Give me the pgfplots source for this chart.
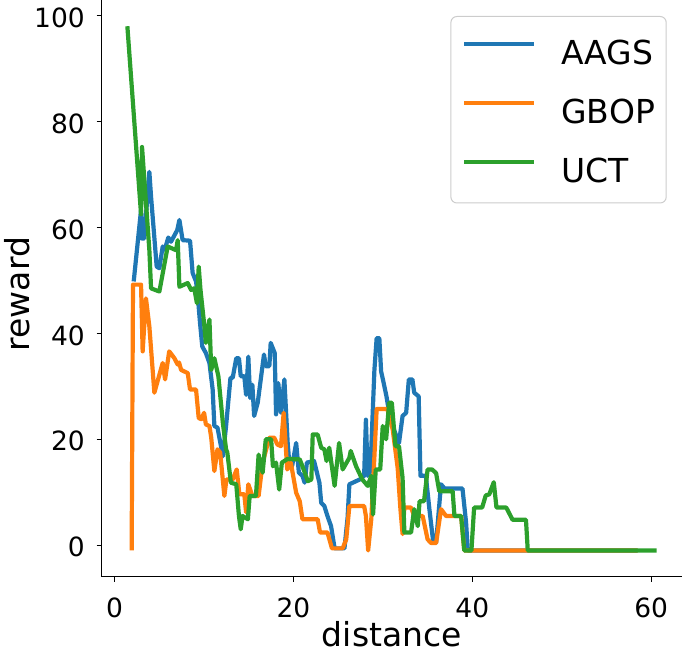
\documentclass[border=0pt]{standalone}
\usepackage{fontspec}
\setmainfont{DejaVu Sans}
\usepackage{pgfplots}
\pgfplotsset{compat=1.18}
\definecolor{tabblue}{HTML}{1F77B4}
\definecolor{taborange}{HTML}{FF7F0E}
\definecolor{tabgreen}{HTML}{2CA02C}
\begin{document}
\begin{tikzpicture}
\begin{axis}[
  name=ax,
  scale only axis,
  width=580.3pt, height=576.7pt,
  xmin=-1.45, xmax=63.45, ymin=-5.95, ymax=102.95,
  axis x line*=bottom, axis y line*=left,
  axis line style={line width=1.1pt, -},
  tick align=outside,
  major tick length=5pt,
  every tick/.style={black, line width=1.1pt},
  xtick={0,20,40,60}, ytick={0,20,...,100},
  /pgf/number format/assume math mode=true,
  tick label style={font=\fontsize{26.5}{30}\selectfont, inner sep=0pt},
  xticklabel style={anchor=north, yshift=-16pt},
  yticklabel style={anchor=east, xshift=-11.7pt, yshift=-2pt},
  xlabel={distance}, ylabel={reward},
  label style={font=\fontsize{33}{40}\selectfont, inner sep=0pt},
  xlabel style={at={(axis description cs:0.5,-0.1202)}, anchor=base},
  ylabel style={at={(axis description cs:-0.1236,0.49)}, anchor=south},
  every axis plot/.append style={line width=4.2pt, line join=round},
  legend style={at={(axis description cs:1,1)}, anchor=north east,
    xshift=-15.3pt, yshift=-16pt,
    draw=black!20, line width=1pt, rounded corners=6pt, fill=white,
    font=\fontsize{33}{40}\selectfont,
    inner xsep=11.3pt, inner ysep=15.7pt,
    row sep=21.9pt, column sep=25pt,
    nodes={inner sep=0pt, text height=23.3pt, text depth=4.3pt}},
  legend cell align=left,
  legend image code/.code={%
    \path[draw=none, fill=none] (0pt,-4.3pt) rectangle (70pt,23.3pt);
    \draw[#1, sharp corners] (0pt,11.7pt) -- (70pt,11.7pt);},
]
% AAGS
\addplot[tabblue] coordinates {
(2.13,49.8) (2.95,63.3) (3.06,57.9) (3.3,57.9) (3.88,70.5) (4.07,65.8)
(4.7,52.6) (5.0,52.3) (5.37,56.4) (5.6,55.8) (6.0,58.1) (6.3,57.3)
(7.0,59.5) (7.24,61.4) (7.6,57.6) (8.43,57.5) (8.72,51.4) (9.1,49.8)
(9.3,47.0) (9.55,41.9) (9.8,37.5) (10.2,36.3) (10.6,34.4) (10.96,29.4)
(11.15,22.5) (11.5,22.2) (12.1,16.8) (12.46,22.5) (12.95,31.6) (13.2,31.6)
(13.6,35.3) (13.9,35.3) (14.1,31.9) (14.5,31.9) (14.7,28.4) (14.95,35.6)
(15.15,27.8) (15.4,30.3) (15.6,24.4) (16.0,26.9) (16.7,36.0) (16.9,33.8)
(17.3,33.8) (17.45,38.2) (17.9,36.3) (18.05,24.7) (18.3,30.6) (18.6,25.0)
(18.98,31.3) (19.35,19.3) (19.5,16.2) (19.85,15.0) (20.3,19.3) (20.6,13.7)
(21.0,13.1) (21.25,11.8) (21.5,15.6) (22.3,15.9) (22.9,11.8) (23.1,8.0)
(23.45,7.4) (23.8,5.5) (24.2,3.6) (24.6,-0.6) (25.7,-0.6) (26.05,5.2)
(26.25,11.5) (27.4,12.4) (27.9,13.1) (28.1,23.7) (28.3,13.1) (28.6,14.0)
(29.05,33.1) (29.3,39.1) (29.6,39.1) (29.8,32.8) (30.0,31.3) (30.4,28.1)
(30.7,25.0) (31.1,22.5) (31.5,20.6) (31.8,19.3) (32.2,24.4) (32.6,25.0)
(32.9,31.3) (33.3,31.3) (33.5,28.8) (34.0,28.1) (34.2,13.1) (34.8,13.1)
(35.2,6.8) (35.6,1.0) (35.95,0.5) (36.5,11.5) (36.9,10.7) (38.9,10.7)
(39.3,4.3) (39.5,-1) (58.5,-1)
};
\addlegendentry{AAGS}
% GBOP
\addplot[taborange] coordinates {
(1.9,-1) (2.05,49.2) (2.95,49.2) (3.13,36.6) (3.5,46.6) (3.88,41.3)
(4.44,28.8) (5.37,34.4) (5.64,31.3) (6.1,36.6) (6.68,35.3) (7.05,34.1)
(7.2,34.5) (7.43,33.1) (8.17,32.5) (8.43,29.4) (9.1,29.4) (9.4,24.0)
(9.7,23.8) (10.0,25.0) (10.2,22.8) (10.6,22.5) (10.8,20.3) (11.15,14.0)
(11.5,18.1) (11.8,17.5) (12.27,9.3) (12.5,12.4) (13.2,12.4) (13.65,14.3)
(13.95,9.6) (14.5,9.6) (14.7,6.2) (14.95,11.5) (15.4,9.3) (16.1,9.3)
(16.55,15.6) (17.3,20.3) (17.85,20.3) (18.2,19.0) (18.6,18.7) (18.9,25.0)
(19.3,14.3) (19.7,15.6) (20.3,9.9) (20.7,8.3) (21.0,4.9) (22.7,4.9)
(22.97,2.4) (23.8,2.4) (24.3,-0.6) (25.5,-0.6) (25.9,1.1) (26.25,7.4)
(27.9,7.4) (28.1,5.5) (28.35,-1) (28.7,4.9) (29.05,16.8) (29.3,25.7)
(30.5,25.7) (31.1,21.8) (31.65,14.6) (31.96,6.8) (32.2,2.1) (32.4,7.1)
(33.15,7.1) (33.5,5.5) (34.45,5.5) (35.0,1.1) (35.4,0.4) (35.95,0.4)
(36.5,6.8) (37.07,5.5) (38.75,5.5) (39.1,-1) (58.5,-1)
};
\addlegendentry{GBOP}
% UCT
\addplot[tabgreen] coordinates {
(1.42,98.0) (2.95,62.5) (3.06,75.2) (3.88,55.7) (4.07,48.5) (5.0,47.9)
(5.93,56.4) (6.87,55.7) (7.05,57.6) (7.24,48.8) (8.17,49.5) (8.55,48.2)
(8.9,48.5) (9.2,45.7) (9.4,52.6) (9.6,48.2) (10.0,41.9) (10.2,38.2)
(10.6,42.6) (10.8,33.1) (11.15,35.3) (11.6,31.9) (12.1,23.1) (12.46,18.1)
(12.6,17.5) (13.0,11.8) (13.6,11.5) (13.9,5.5) (14.1,3.0) (14.3,5.5)
(14.9,4.9) (15.1,9.3) (15.8,9.3) (16.1,17.1) (16.55,13.7) (16.9,20.0)
(17.5,20.0) (17.7,14.9) (18.05,15.6) (18.4,10.5) (18.7,15.6) (19.35,16.3)
(20.7,16.2) (21.0,14.9) (21.6,12.1) (22.0,12.4) (22.15,20.9) (22.7,20.9)
(23.1,18.4) (23.45,18.1) (23.7,15.9) (24.0,18.4) (24.6,11.2) (25.1,19.3)
(25.5,14.3) (26.25,16.5) (26.4,17.8) (27.0,14.9) (27.7,12.4) (28.3,11.2)
(28.7,13.1) (28.9,5.8) (29.2,14.3) (29.7,14.3) (29.98,22.5) (30.36,20.0)
(30.7,26.9) (31.0,26.9) (31.4,18.7) (31.8,18.7) (32.2,12.7) (32.4,2.4)
(33.15,2.4) (33.5,6.8) (33.9,3.6) (34.1,8.3) (34.6,8.3) (35.0,14.3)
(35.5,14.3) (35.95,13.6) (36.3,10.2) (37.8,10.2) (38.0,5.5) (38.75,5.5)
(39.1,-1) (39.9,-1) (40.2,7.1) (41.1,7.1) (41.5,9.4) (41.9,9.6)
(42.4,11.9) (42.7,7.1) (43.8,7.1) (44.5,4.8) (46.0,4.8) (46.2,-1)
(60.6,-1)
};
\addlegendentry{UCT}
\end{axis}
\pgfresetboundingbox
\path[use as bounding box] ([xshift=-101.7pt,yshift=-76.3pt]ax.south west) rectangle (ax.north east);
\end{tikzpicture}
\end{document}
